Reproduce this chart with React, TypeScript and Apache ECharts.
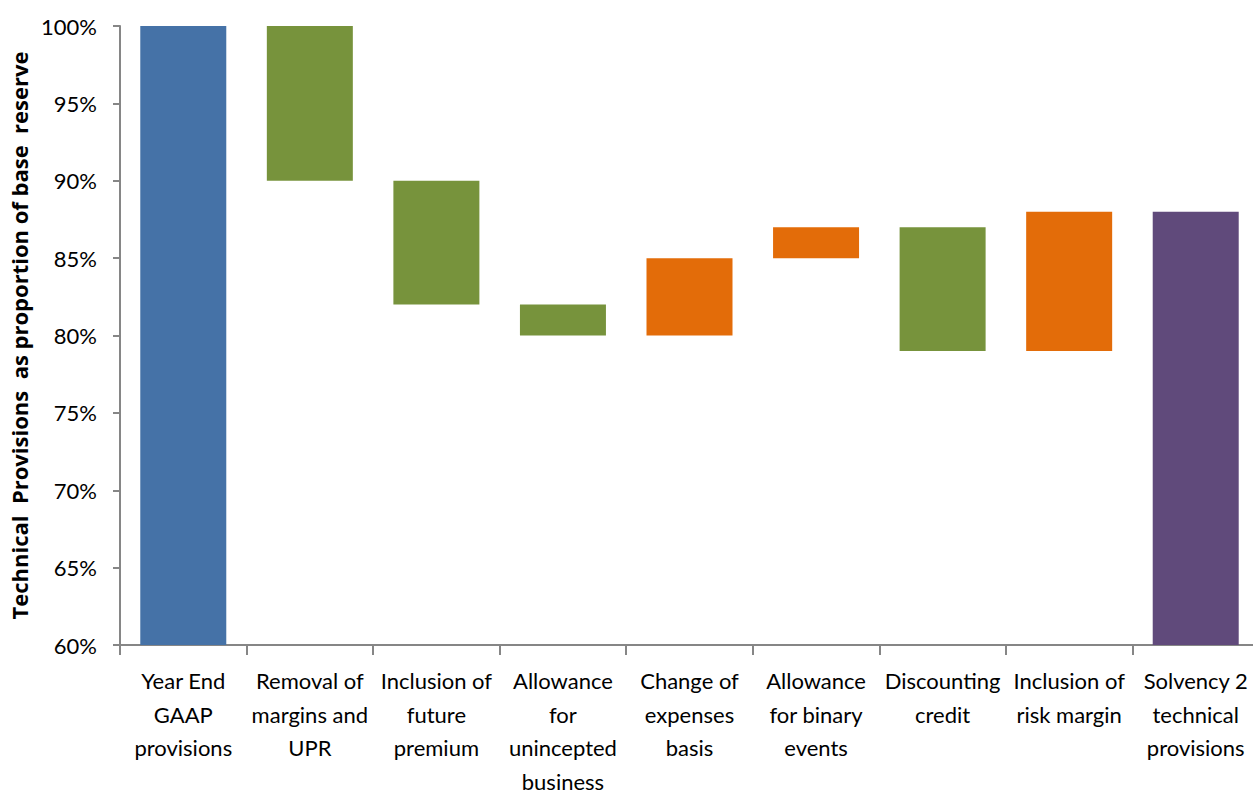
import React, { useEffect, useRef } from "react";
import * as echarts from "echarts";

const categories = [
  "Year End\nGAAP\nprovisions",
  "Removal of\nmargins and\nUPR",
  "Inclusion of\nfuture\npremium",
  "Allowance\nfor\nunincepted\nbusiness",
  "Change of\nexpenses\nbasis",
  "Allowance\nfor binary\nevents",
  "Discounting\ncredit",
  "Inclusion of\nrisk margin",
  "Solvency 2\ntechnical\nprovisions",
];
const lows = [60, 90, 82, 80, 80, 85, 79, 79, 60];
const highs = [100, 100, 90, 82, 85, 87, 87, 88, 88];
const kinds = ["start", "down", "down", "down", "up", "up", "down", "up", "end"];
const kindColors: Record<string, string> = {
  start: "#4572A7",
  down: "#77933C",
  up: "#E36C09",
  end: "#604A7B",
};
const yTicks = { min: 60, max: 100, interval: 5 };

export default function App() {
  const ref = useRef<HTMLDivElement>(null);
  useEffect(() => {
    if (!ref.current) return;
    const chart = echarts.init(ref.current, undefined, { renderer: "svg" });
    const font = "Lato, 'Open Sans', sans-serif";
    chart.setOption({
      animation: false,
      grid: { left: 120, right: -6, top: 26, bottom: 149, containLabel: false, outerBoundsMode: "none" },
      xAxis: {
        type: "category",
        data: categories,
        axisLine: { lineStyle: { color: "#868686", width: 2 } },
        axisTick: { show: true, length: 10, alignWithLabel: false, lineStyle: { color: "#868686", width: 2 } },
        axisLabel: {
          interval: 0,
          color: "#000",
          fontFamily: font,
          fontSize: 22,
          lineHeight: 33.5,
          margin: 19,
        },
      },
      yAxis: {
        type: "value",
        min: yTicks.min,
        max: yTicks.max,
        interval: yTicks.interval,
        name: "Technical  Provisions  as proportion of base  reserve",
        nameLocation: "middle",
        nameGap: 90,
        nameTextStyle: { fontFamily: "'Open Sans', sans-serif", fontSize: 22, fontWeight: "bold", color: "#000" },
        axisLine: { show: true, lineStyle: { color: "#868686", width: 2 } },
        axisTick: { show: true, length: 7, lineStyle: { color: "#868686", width: 2 } },
        splitLine: { show: false },
        axisLabel: {
          formatter: "{value}%",
          color: "#000",
          fontFamily: font,
          fontSize: 22,
          margin: 23,
        },
      },
      series: [
        {
          type: "bar",
          stack: "w",
          barWidth: 86,
          itemStyle: { color: "transparent" },
          emphasis: { disabled: true },
          data: lows,
        },
        {
          type: "bar",
          stack: "w",
          barWidth: 86,
          data: highs.map((h, i) => ({
            value: h - lows[i],
            itemStyle: { color: kindColors[kinds[i]] },
          })),
        },
      ],
    });
    return () => chart.dispose();
  }, []);
  return (
    <div
      ref={ref}
      style={{ position: "absolute", left: 0, top: 0, width: 1253, height: 794, background: "#fff" }}
    />
  );
}
